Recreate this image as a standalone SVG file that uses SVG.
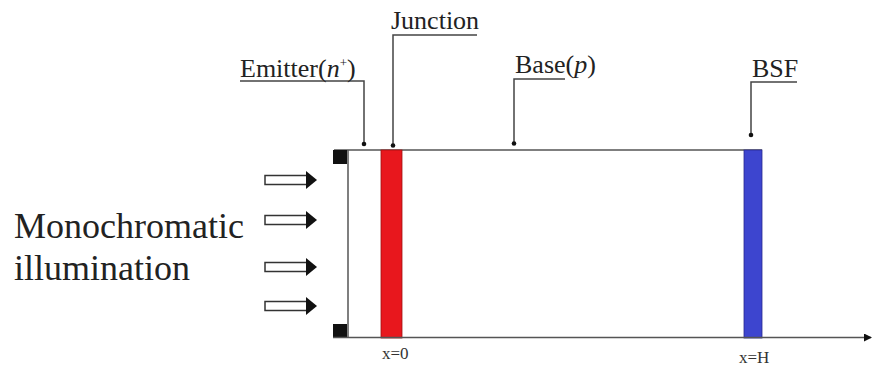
<svg xmlns="http://www.w3.org/2000/svg" width="873" height="366" viewBox="0 0 873 366">
<defs>
<style>
text{font-family:'Liberation Serif','Times New Roman',Times,'DejaVu Serif',serif}
.lbl{font-size:26px;fill:#222}
.big{font-size:36px;fill:#222}
.ax{font-size:17px;fill:#333}
.ln{stroke:#555;stroke-width:1.5;fill:none}
.ul{stroke:#444;stroke-width:1.5;fill:none}
.dot{fill:#111}
.harrow{fill:#fff;stroke:#333;stroke-width:1.5}
</style>
<marker id="ah" markerWidth="8" markerHeight="8" refX="7" refY="4" orient="auto" markerUnits="userSpaceOnUse">
<path d="M0,0 L8,4 L0,8 Z" fill="#111"/>
</marker>
<g id="hollow">
<rect x="0" y="-4.5" width="42" height="9" class="harrow"/>
<path d="M41,-9 L52,0 L41,9 Z" fill="#111"/>
</g>
</defs>
<rect width="873" height="366" fill="#fff"/>

<g id="cell">
<line x1="334" y1="150" x2="762" y2="150" class="ln"/>
<line x1="348" y1="150" x2="348" y2="337" class="ln"/>
<rect x="333" y="150" width="14" height="14" fill="#111"/>
<rect x="333" y="324" width="14" height="14" fill="#111"/>
</g>
<g id="junction-layer"><rect x="381" y="150" width="21" height="188" fill="#e8171d" stroke="#a01010" stroke-width="0.8"/></g>
<g id="bsf-layer"><rect x="744" y="150" width="18" height="188" fill="#3d45cf" stroke="#2a2a90" stroke-width="0.8"/></g>

<g id="connectors">
<line x1="333" y1="337.5" x2="871" y2="337.5" class="ln" marker-end="url(#ah)"/>
<polyline points="240,81 364,81 364,143" class="ul"/>
<polyline points="477,35 393,35 393,145" class="ul"/>
<polyline points="565,79 514,79 514,143" class="ul"/>
<polyline points="797,82 751,82 751,134" class="ul"/>
<circle cx="364" cy="144" r="2.3" class="dot"/>
<circle cx="393" cy="145.5" r="2.3" class="dot"/>
<circle cx="514" cy="143.5" r="2.3" class="dot"/>
<circle cx="751" cy="135" r="2.3" class="dot"/>
</g>

<g id="emitter-label"><text x="240" y="77" class="lbl" font-family="Liberation Serif, serif">Emitter(<tspan font-style="italic">n</tspan><tspan font-size="13" dy="-10">+</tspan><tspan dy="10">)</tspan></text></g>
<g id="junction-label"><text x="391" y="29" class="lbl" font-family="Liberation Serif, serif">Junction</text></g>
<g id="base-label"><text x="515" y="73" class="lbl" font-family="Liberation Serif, serif">Base(<tspan font-style="italic">p</tspan>)</text></g>
<g id="bsf-label"><text x="752" y="77" class="lbl" font-family="Liberation Serif, serif">BSF</text></g>

<g id="illumination">
<use href="#hollow" x="265" y="180"/>
<use href="#hollow" x="265" y="220"/>
<use href="#hollow" x="265" y="267"/>
<use href="#hollow" x="265" y="306"/>
<text x="14" y="238" class="big" font-family="Liberation Serif, serif">Monochromatic</text>
<text x="14" y="280" class="big" font-family="Liberation Serif, serif">illumination</text>
</g>

<g id="axis-labels">
<text x="382" y="359" class="ax" font-family="Liberation Serif, serif">x=0</text>
<text x="739" y="363" class="ax" font-family="Liberation Serif, serif">x=H</text>
</g>
</svg>
